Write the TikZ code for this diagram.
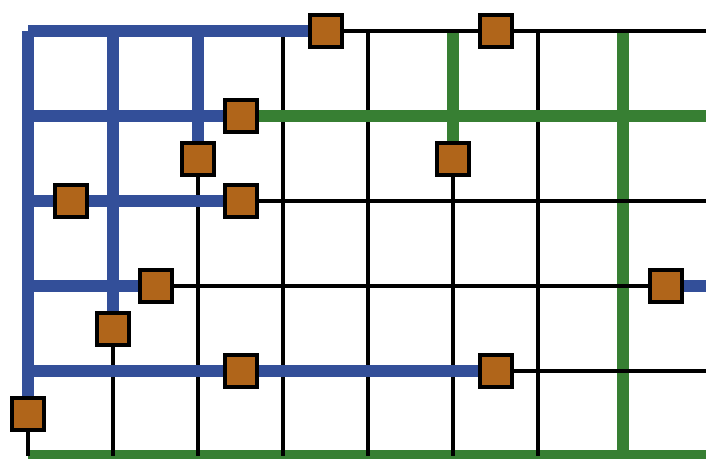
\documentclass[tikz,border=0pt]{standalone}
\usetikzlibrary{backgrounds}
\definecolor{gblue}{RGB}{51,79,153}
\definecolor{ggreen}{RGB}{55,127,51}
\definecolor{gbrown}{RGB}{176,101,26}
\tikzset{
  thickblue/.style={draw=gblue,line width=12pt,line cap=butt},
  thickgreen/.style={draw=ggreen,line width=12pt,line cap=butt},
  thinblack/.style={draw=black,line width=4pt,line cap=butt},
  sq/.style={draw=black,fill=gbrown,line width=4pt,inner sep=0pt,minimum size=32pt,shape=rectangle}
}
\begin{document}
\begin{tikzpicture}[x=1pt,y=-1pt]
\useasboundingbox (0,0) rectangle (706,458);
% squares
\node[sq] (s1) at (325.5,31) {};
\node[sq] (s2) at (495.5,31) {};
\node[sq] (s3) at (240.5,116) {};
\node[sq] (s4) at (198,158.5) {};
\node[sq] (s5) at (453,158.5) {};
\node[sq] (s6) at (70.5,201) {};
\node[sq] (s7) at (240.5,201) {};
\node[sq] (s8) at (155.5,286) {};
\node[sq] (s9) at (665.5,286) {};
\node[sq] (s10) at (113,328.5) {};
\node[sq] (s11) at (240.5,371) {};
\node[sq] (s12) at (495.5,371) {};
\node[sq] (s13) at (28,413.5) {};
% grid coordinates
\foreach \i/\x in {0/28,1/113,2/198,3/283,4/368,5/453,6/538,7/623}{
  \coordinate (t\i) at (\x,31);
  \coordinate (b\i) at (\x,456);
}
\foreach \j/\y in {0/31,1/116,2/201,3/286,4/371,5/456}{
  \coordinate (l\j) at (28,\y);
  \coordinate (r\j) at (706,\y);
}
\begin{pgfonlayer}{background}
% bottom green
\draw[thickgreen] (l5) -- (r5);
% verticals
\draw[thickblue] (t0) -- (s13.center);
\draw[thinblack] (s13.center) -- (b0);
\draw[thickblue] (t1) -- (s10.center);
\draw[thinblack] (s10.center) -- (b1);
\draw[thickblue] (t2) -- (s4.center);
\draw[thinblack] (s4.center) -- (b2);
\draw[thinblack] (t3) -- (b3);
\draw[thinblack] (t4) -- (b4);
\draw[thickgreen] (t5) -- (s5.center);
\draw[thinblack] (s5.center) -- (b5);
\draw[thinblack] (t6) -- (b6);
\draw[thickgreen] (t7) -- (b7);
% horizontals
\draw[thickblue] (l0) -- (s1.center);
\draw[thinblack] (s1.center) -- (s2.center) -- (r0);
\draw[thickblue] (l1) -- (s3.center);
\draw[thickgreen] (s3.center) -- (r1);
\draw[thickblue] (l2) -- (s6.center) -- (s7.center);
\draw[thinblack] (s7.center) -- (r2);
\draw[thickblue] (l3) -- (s8.center);
\draw[thinblack] (s8.center) -- (s9.center);
\draw[thickblue] (s9.center) -- (r3);
\draw[thickblue] (l4) -- (s11.center) -- (s12.center);
\draw[thinblack] (s12.center) -- (r4);
\end{pgfonlayer}
\end{tikzpicture}
\end{document}
